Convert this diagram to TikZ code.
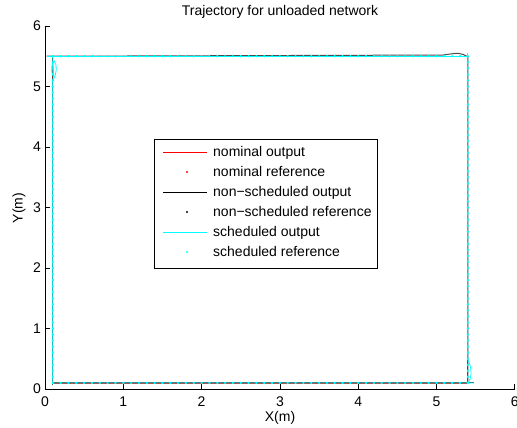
\documentclass[tikz,border=0pt]{standalone}
\usepackage{fontspec}
\setmainfont{Liberation Sans}
\usetikzlibrary{positioning}
\definecolor{mcyan}{rgb}{0,1,1}
\definecolor{mred}{rgb}{1,0,0}

\begin{document}
\begin{tikzpicture}[
    x=1bp, y=1bp,
    every node/.style={font=\fontsize{14bp}{16bp}\selectfont, inner sep=0pt},
    axisline/.style={line width=0.7bp, black},
    nomline/.style={mred, line width=0.8bp},
    nsline/.style={black!70, line width=1bp},
    schline/.style={mcyan, line width=0.8bp},
    refdot/.style={fill=mcyan, draw=none},
    legtext/.style={anchor=base west}
  ]
  \useasboundingbox (0,0) rectangle (517,427);

  % Title and axis labels
  \node (title) at (280,415) {Trajectory for unloaded network};
  \node (xlab) at (280,9) {X(m)};
  \node[rotate=90] (ylab) at (19,219) {Y(m)};

  \begin{scope}[shift={(45,38)}, x=78.3bp, y=60.5bp]
    % axes and ticks
    \draw[axisline] (0,6) -- (0,0) -- (6,0);
    \foreach \k in {0,...,6} {
      \draw[axisline] (\k,0) -- ++(0,5bp);
      \draw[axisline] (0,\k) -- ++(5bp,0);
      \node[below=8bp] (xt\k) at (\k,0) {\k};
      \node[left=4bp] (yt\k) at (0,\k) {\k};
    }

    % nominal output
    \draw[nomline] (0.1,0.1) -- (5.4,0.1) -- (5.4,5.5) -- (0.1,5.5) -- cycle;

    % non-scheduled output
    \draw[nsline] (0.1,0.06) -- (0.1,5.5);
    \draw[nsline] (0.02,5.5) -- (5.08,5.52) .. controls (5.3,5.56) .. (5.4,5.49) -- (5.4,0.1);
    \draw[nsline] (0.1,0.1) -- (5.48,0.1);

    % scheduled output
    \draw[schline] (0.02,5.5) -- (5.4,5.5) -- (5.4,5.55);
    \draw[schline] (5.4,5.5) -- (5.4,0.48)
      .. controls (5.45,0.38) and (5.45,0.2) .. (5.42,0.14) -- (5.4,0.1);
    \draw[schline] (5.48,0.1) -- (0.1,0.1) -- (0.1,5.1)
      .. controls (0.15,5.2) and (0.16,5.35) .. (0.12,5.42)
      .. controls (0.08,5.38) and (0.07,5.25) .. (0.11,5.16) -- (0.1,5.5);

    % scheduled reference
    \foreach \i in {1,...,54} {
      \fill[refdot] (\i/10,0.1) circle (1.3bp);
      \fill[refdot] (\i/10,5.5) circle (1.3bp);
    }
    \foreach \i in {1,...,55} {
      \fill[refdot] (0.1,\i/10) circle (1.3bp);
      \fill[refdot] (5.4,\i/10) circle (1.3bp);
    }
  \end{scope}

  % Legend
  \node[draw, line width=0.7bp, fill=white, minimum width=223bp, minimum height=129bp] (legbox) at (265.5,223.5) {};

  \draw[nomline] (163,275) -- (207,275);
  \node[legtext] (leg1) at (213,271) {nominal output};
  \fill[mred] (187,255) circle (1.2bp);
  \node[legtext] (leg2) at (213,251) {nominal reference};
  \draw[black, line width=0.8bp] (163,235) -- (207,235);
  \node[legtext] (leg3) at (213,231) {non−scheduled output};
  \fill[black] (187,215) circle (1.2bp);
  \node[legtext] (leg4) at (213,211) {non−scheduled reference};
  \draw[schline] (163,195) -- (207,195);
  \node[legtext] (leg5) at (213,191) {scheduled output};
  \fill[mcyan] (187,175) circle (1.2bp);
  \node[legtext] (leg6) at (213,171) {scheduled reference};

\end{tikzpicture}
\end{document}
